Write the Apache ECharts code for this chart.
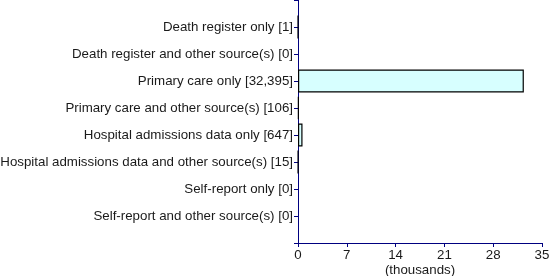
<!DOCTYPE html>
<html>
<head>
<meta charset="utf-8">
<script src="https://cdn.jsdelivr.net/npm/echarts@6/dist/echarts.min.js"></script>
<style>
  html, body { margin: 0; padding: 0; background: #fff; }
  #chart { width: 550px; height: 276px; }
</style>
</head>
<body>
<div id="chart"></div>
<script>
// categories top to bottom, with the count shown in brackets
var categories = [
  'Death register only [1]',
  'Death register and other source(s) [0]',
  'Primary care only [32,395]',
  'Primary care and other source(s) [106]',
  'Hospital admissions data only [647]',
  'Hospital admissions data and other source(s) [15]',
  'Self-report only [0]',
  'Self-report and other source(s) [0]'
]
// values in thousands
var values = [0.001, 0, 32.395, 0.106, 0.647, 0.015, 0, 0]
var xTicks = [0, 7, 14, 21, 28, 35]

var axisColor = '#000080'
var textColor = '#1a1a1a'
var fontSize = 13.3

// pad with blank slots so the bars sit between the axis ends
var yData = [''].concat(categories).concat([''])
var barData = ['-'].concat(values.map(function(v) { return v > 0 ? v : '-' })).concat(['-'])

var myChart = echarts.init(document.getElementById('chart'), null, { renderer: 'canvas' })
var option = {
  animation: false,
  grid: { left: 298, right: 8, top: 0, bottom: 33, containLabel: false, outerBoundsMode: 'none' },
  xAxis: {
    type: 'value',
    min: xTicks[0],
    max: xTicks[xTicks.length - 1],
    interval: 7,
    name: '(thousands)',
    nameLocation: 'middle',
    nameGap: 21,
    nameMoveOverlap: false,
    nameTextStyle: { fontFamily: 'Liberation Sans', fontSize: fontSize, color: textColor },
    axisLine: { show: true, lineStyle: { color: axisColor, width: 1 } },
    axisTick: { show: true, length: 4, lineStyle: { color: axisColor } },
    axisLabel: { fontFamily: 'Liberation Sans', fontSize: fontSize, color: textColor, margin: 6 },
    splitLine: { show: false }
  },
  yAxis: {
    type: 'category',
    inverse: true,
    boundaryGap: false,
    data: yData,
    axisLine: { show: true, lineStyle: { color: axisColor, width: 1 } },
    axisTick: { show: true, length: 4, lineStyle: { color: axisColor } },
    axisLabel: { fontFamily: 'Liberation Sans', fontSize: fontSize, color: textColor, margin: 5, interval: 0 }
  },
  series: [{
    type: 'bar',
    data: barData,
    barWidth: 23,
    itemStyle: { color: '#d7ffff', borderColor: '#000', borderWidth: 1.2 }
  }]
}
option && myChart.setOption(option)
</script>
</body>
</html>
